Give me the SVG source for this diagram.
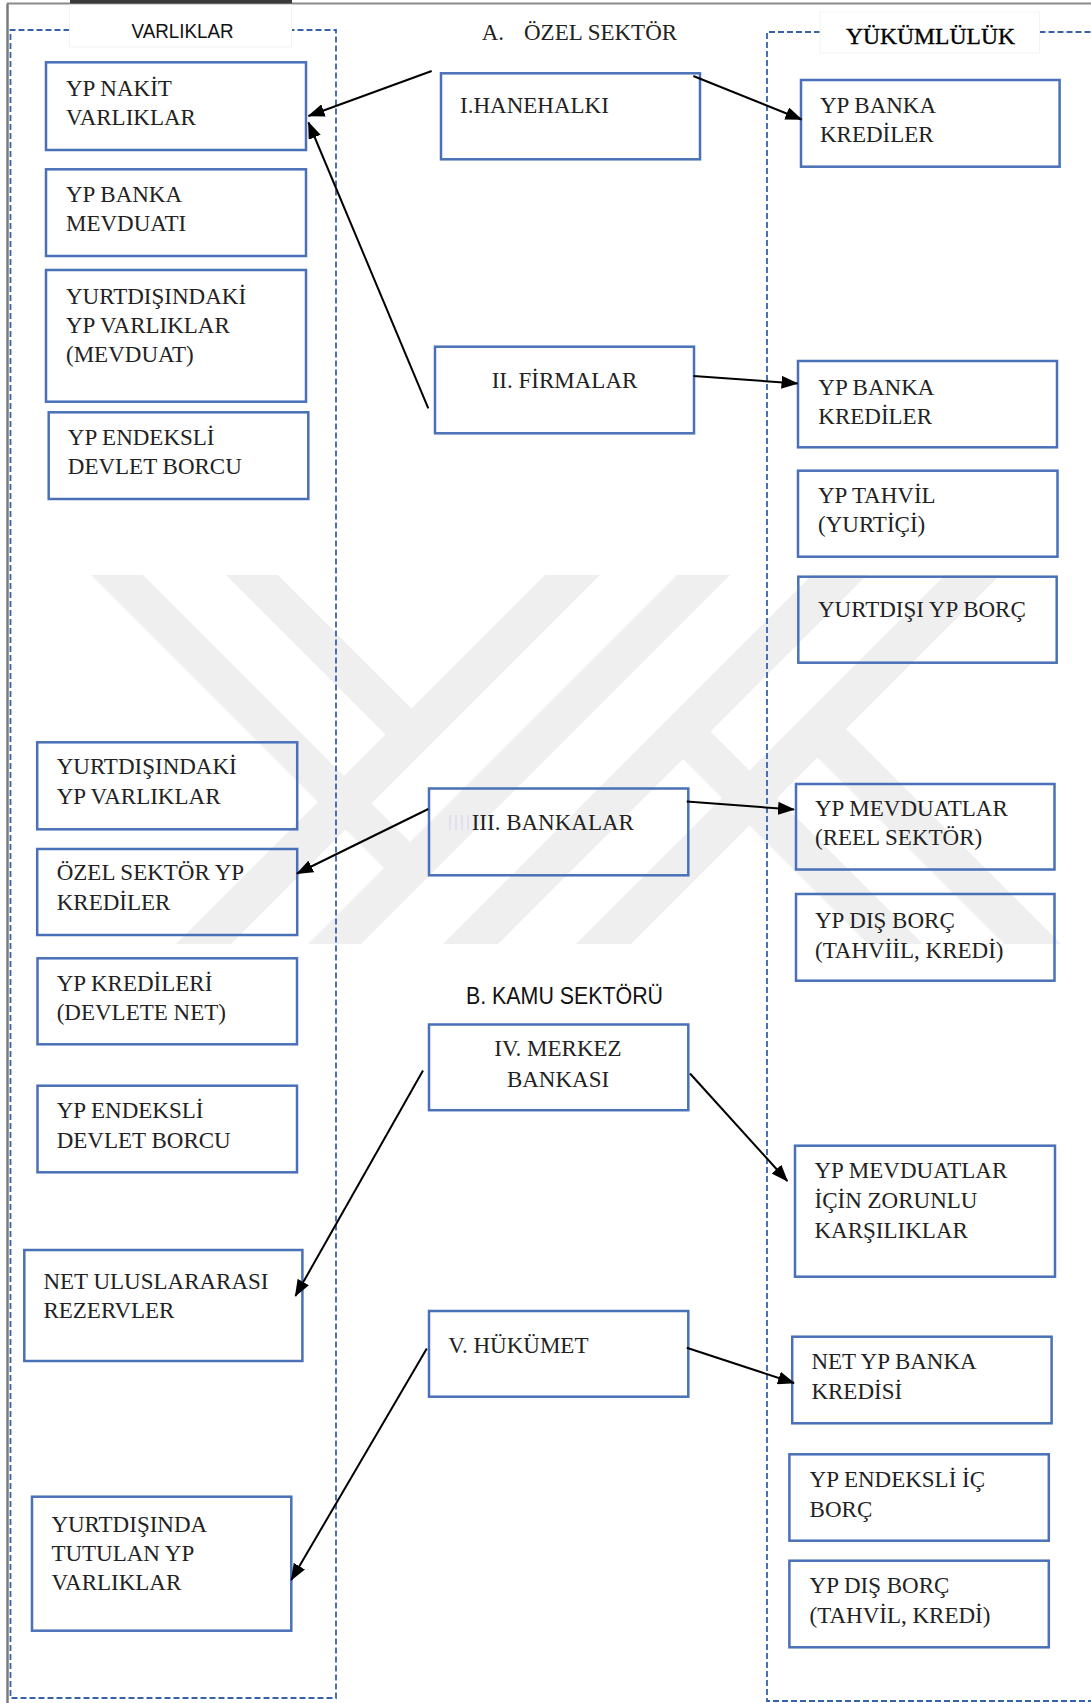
<svg xmlns="http://www.w3.org/2000/svg" width="1091" height="1703" viewBox="0 0 1091 1703">
<style>
.box{fill:none;stroke:#4a70b7;stroke-width:2.5}
.t{font-family:"Liberation Serif","Times New Roman",serif;font-size:23px;fill:#222}
.tm{font-family:"Liberation Serif","Times New Roman",serif;font-size:23px;fill:#222;text-anchor:middle}
.s{font-family:"Liberation Sans",Arial,sans-serif;fill:#111}
.cont{fill:none;stroke:#3762a9;stroke-width:1.8;stroke-dasharray:6 3}
.conn{fill:none;stroke:#000;stroke-width:2;marker-end:url(#ah)}
.wm{fill:#efefef}
</style>
<defs>
<marker id="ah" markerUnits="userSpaceOnUse" markerWidth="17" markerHeight="13" refX="16" refY="6.5" orient="auto">
<path d="M0,0 L17,6.5 L0,13 Z" fill="#000"/>
</marker>
</defs>
<rect x="0" y="0" width="1091" height="1703" fill="#fff"/>
<!-- page frame -->
<g id="frame">
<line x1="7.5" y1="3.5" x2="7.5" y2="1703" stroke="#7a7a7a" stroke-width="2.5"/>
<line x1="7" y1="3.5" x2="1091" y2="3.5" stroke="#8a8a8a" stroke-width="2"/>
<rect x="70" y="0" width="222" height="3.5" fill="#3a3a3a"/>
</g>
<!-- watermark -->
<path class="wm" d="M91,575 L143,575 L410,842 L384,868 Z M226,575 L278,575 L411.5,708.5 L385.5,734.5 Z M545,575 L600,575 L231,944 L176,944 Z M677,575 L730,575 L361,944 L308,944 Z M812,575 L867,575 L498,944 L443,944 Z M945,575 L1000,575 L631,944 L576,944 Z M818.5,701.5 L1061,944 L1004,944 L790,730 Z M683,704 L923,944 L868,944 L655.5,731.5 Z"/>
<!-- containers -->
<g id="varliklar-container">
<path class="cont" d="M69.5,30 L10.5,30 L10.5,1698 L336,1698 L336,30 L291.5,30"/>
<rect x="69.5" y="5" width="222" height="42" fill="#fff" stroke="#f3f3f3" stroke-width="1"/>
<text class="s" x="131.5" y="38" font-size="20" textLength="102" lengthAdjust="spacingAndGlyphs">VARLIKLAR</text>
</g>
<g id="yukumluluk-container">
<path class="cont" d="M820,32 L767,32 L767,1701 L1091,1701"/>
<path class="cont" d="M1039.5,32 L1091,32"/>
<rect x="820" y="12" width="219.5" height="41" fill="#fff" stroke="#f3f3f3" stroke-width="1"/>
<text x="846" y="44.3" font-family="Liberation Serif, Times New Roman, serif" font-size="23.5" fill="#000" stroke="#000" stroke-width="0.35" textLength="169" lengthAdjust="spacingAndGlyphs">YÜKÜMLÜLÜK</text>
</g>
<text id="ozel-sektor" class="t" x="481.7" y="40" font-size="23.5">A. <tspan x="524">ÖZEL SEKTÖR</tspan></text>
<text id="kamu-sektoru" class="s" x="466" y="1004" font-size="23.5" textLength="197" lengthAdjust="spacingAndGlyphs">B. KAMU SEKTÖRÜ</text>

<!-- left nodes -->
<g id="yp-nakit-varliklar"><rect class="box" x="46" y="62.3" width="260" height="87.7"/><text class="t" x="66" y="96">YP NAKİT</text><text class="t" x="66" y="125">VARLIKLAR</text></g>
<g id="yp-banka-mevduati"><rect class="box" x="46" y="169.3" width="260" height="86.7"/><text class="t" x="66" y="201.7">YP BANKA</text><text class="t" x="66" y="230.7">MEVDUATI</text></g>
<g id="yurtdisindaki-yp-varliklar-mevduat"><rect class="box" x="46" y="270" width="260" height="131.7"/><text class="t" x="66" y="304">YURTDIŞINDAKİ</text><text class="t" x="66" y="333.3">YP VARLIKLAR</text><text class="t" x="66" y="361.7">(MEVDUAT)</text></g>
<g id="yp-endeksli-devlet-borcu-1"><rect class="box" x="48.7" y="412.3" width="259.6" height="86.7"/><text class="t" x="67.8" y="445">YP ENDEKSLİ</text><text class="t" x="67.8" y="474.3">DEVLET BORCU</text></g>
<g id="yurtdisindaki-yp-varliklar"><rect class="box" x="37.2" y="742.3" width="260" height="87"/><text class="t" x="56.7" y="774.3">YURTDIŞINDAKİ</text><text class="t" x="56.7" y="804.3">YP VARLIKLAR</text></g>
<g id="ozel-sektor-yp-krediler"><rect class="box" x="37.2" y="849" width="260" height="86"/><text class="t" x="56.7" y="880">ÖZEL SEKTÖR YP</text><text class="t" x="56.7" y="910">KREDİLER</text></g>
<g id="yp-kredileri-devlete-net"><rect class="box" x="37.5" y="958.3" width="259.5" height="86"/><text class="t" x="56.7" y="990.7">YP KREDİLERİ</text><text class="t" x="56.7" y="1020">(DEVLETE NET)</text></g>
<g id="yp-endeksli-devlet-borcu-2"><rect class="box" x="37.5" y="1085.7" width="259.5" height="86.6"/><text class="t" x="56.7" y="1118.3">YP ENDEKSLİ</text><text class="t" x="56.7" y="1148.3">DEVLET BORCU</text></g>
<g id="net-uluslararasi-rezervler"><rect class="box" x="24.3" y="1250" width="278.1" height="111"/><text class="t" x="43.4" y="1289">NET ULUSLARARASI</text><text class="t" x="43.4" y="1318.3">REZERVLER</text></g>
<g id="yurtdisinda-tutulan-yp-varliklar"><rect class="box" x="32" y="1496.7" width="259.3" height="134"/><text class="t" x="51.4" y="1531.7">YURTDIŞINDA</text><text class="t" x="51.4" y="1560.7">TUTULAN YP</text><text class="t" x="51.4" y="1590">VARLIKLAR</text></g>

<!-- middle nodes -->
<g id="hanehalki"><rect class="box" x="441" y="73.3" width="259" height="86"/><text class="t" x="460" y="113.3">I.HANEHALKI</text></g>
<g id="firmalar"><rect class="box" x="435" y="346.7" width="259" height="86.6"/><text class="tm" x="564.5" y="388.3">II. FİRMALAR</text></g>
<g id="bankalar"><rect class="box" x="429" y="788.5" width="259.3" height="86.8"/>
<g stroke="#dcdcec" stroke-width="1.5"><line x1="450" y1="815" x2="450" y2="830"/><line x1="456" y1="815" x2="456" y2="830"/><line x1="462" y1="815" x2="462" y2="830"/><line x1="468" y1="815" x2="468" y2="830"/></g>
<text class="t" x="471.7" y="830.2">III. BANKALAR</text></g>
<g id="merkez-bankasi"><rect class="box" x="429" y="1024.5" width="259.3" height="85.7"/><text class="tm" x="558" y="1056">IV. MERKEZ</text><text class="tm" x="558" y="1086.5">BANKASI</text></g>
<g id="hukumet"><rect class="box" x="429" y="1311" width="259.3" height="85.7"/><text class="t" x="448.3" y="1352.6">V. HÜKÜMET</text></g>

<!-- right nodes -->
<g id="yp-banka-krediler-1"><rect class="box" x="801" y="80" width="258.6" height="86.7"/><text class="t" x="820" y="112.7">YP BANKA</text><text class="t" x="820" y="141.7">KREDİLER</text></g>
<g id="yp-banka-krediler-2"><rect class="box" x="798" y="361" width="259" height="86.3"/><text class="t" x="818.3" y="395">YP BANKA</text><text class="t" x="818.3" y="424">KREDİLER</text></g>
<g id="yp-tahvil-yurtici"><rect class="box" x="798" y="470.7" width="259.5" height="86"/><text class="t" x="818" y="503.3">YP TAHVİL</text><text class="t" x="818" y="532.3">(YURTİÇİ)</text></g>
<g id="yurtdisi-yp-borc"><rect class="box" x="798.3" y="576.7" width="258.4" height="86"/><text class="t" x="818" y="617">YURTDIŞI YP BORÇ</text></g>
<g id="yp-mevduatlar-reel-sektor"><rect class="box" x="796" y="784" width="258.5" height="85.5"/><text class="t" x="815" y="815.5">YP MEVDUATLAR</text><text class="t" x="815" y="844.5">(REEL SEKTÖR)</text></g>
<g id="yp-dis-borc-1"><rect class="box" x="796" y="894" width="258.5" height="86.7"/><text class="t" x="815" y="927.7">YP DIŞ BORÇ</text><text class="t" x="815" y="957.7">(TAHVİİL, KREDİ)</text></g>
<g id="yp-mevduatlar-zorunlu-karsiliklar"><rect class="box" x="795" y="1145.7" width="260" height="131"/><text class="t" x="814.5" y="1178.3">YP MEVDUATLAR</text><text class="t" x="814.5" y="1208.3">İÇİN ZORUNLU</text><text class="t" x="814.5" y="1237.7">KARŞILIKLAR</text></g>
<g id="net-yp-banka-kredisi"><rect class="box" x="792.2" y="1336.7" width="259.4" height="86.6"/><text class="t" x="811.4" y="1369.3">NET YP BANKA</text><text class="t" x="811.4" y="1399">KREDİSİ</text></g>
<g id="yp-endeksli-ic-borc"><rect class="box" x="789.4" y="1454.3" width="259.4" height="86.4"/><text class="t" x="809.6" y="1487.3">YP ENDEKSLİ İÇ</text><text class="t" x="809.6" y="1516.7">BORÇ</text></g>
<g id="yp-dis-borc-2"><rect class="box" x="789.4" y="1560.7" width="259.4" height="86.6"/><text class="t" x="809.6" y="1593.3">YP DIŞ BORÇ</text><text class="t" x="809.6" y="1622.7">(TAHVİL, KREDİ)</text></g>

<!-- connectors -->
<g id="connectors">
<line class="conn" x1="431.7" y1="71" x2="308.5" y2="116"/>
<line class="conn" x1="428.3" y1="408.3" x2="308.5" y2="122.5"/>
<line class="conn" x1="693.3" y1="76" x2="801.5" y2="119.5"/>
<line class="conn" x1="693.3" y1="376" x2="797.5" y2="383.5"/>
<line class="conn" x1="686.7" y1="801.6" x2="794" y2="809.5"/>
<line class="conn" x1="428.3" y1="809" x2="297" y2="873.5"/>
<line class="conn" x1="690" y1="1073.5" x2="787.3" y2="1181"/>
<line class="conn" x1="423" y1="1070.5" x2="295.4" y2="1296"/>
<line class="conn" x1="686.7" y1="1347.8" x2="794" y2="1383"/>
<line class="conn" x1="426.8" y1="1348.5" x2="291.3" y2="1580"/>
</g>
</svg>
